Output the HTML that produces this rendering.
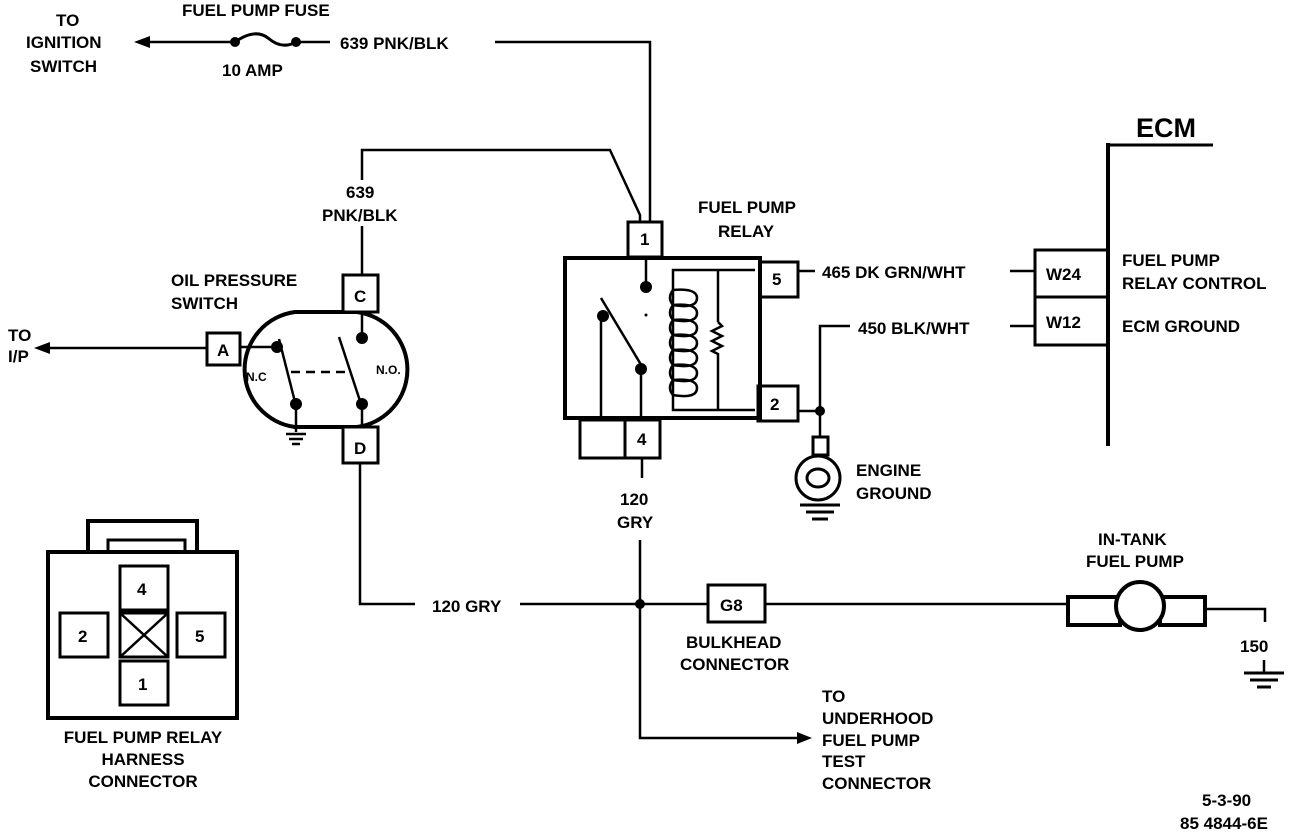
<!DOCTYPE html>
<html><head><meta charset="utf-8"><style>
html,body{margin:0;padding:0;background:#fff;}
svg{display:block;}
text{font-family:"Liberation Sans",sans-serif;font-weight:bold;font-size:17px;fill:#000;}
</style></head><body>
<svg width="1312" height="832" viewBox="0 0 1312 832" xmlns="http://www.w3.org/2000/svg">
<g stroke="#000" stroke-width="2.5" fill="none">
<line x1="140" y1="42" x2="235" y2="42"/>
<path d="M235 42 Q255 28 268 38 Q282 50 296 42" stroke-width="3"/>
<line x1="296" y1="42" x2="330" y2="42"/>
<polyline points="495,42 650,42 650,222"/>
<polyline points="362,180 362,150 610,150 640,215 640,222"/>
<line x1="362" y1="226" x2="362" y2="275"/>
<rect x="565" y="258" width="195" height="160" stroke-width="4"/>
<rect x="628" y="222" width="34" height="35" stroke-width="3"/>
<rect x="760" y="262" width="38" height="35" stroke-width="3"/>
<rect x="758" y="386" width="40" height="35" stroke-width="3"/>
<rect x="580" y="420" width="45" height="38" stroke-width="3"/>
<rect x="625" y="420" width="35" height="38" stroke-width="3"/>
<line x1="646" y1="258" x2="646" y2="287"/>
<line x1="601" y1="318" x2="601" y2="418"/>
<line x1="641" y1="365" x2="641" y2="418"/>
<line x1="601" y1="298" x2="643" y2="368"/>
<polyline points="755,270 673,270 673,410 755,410"/>
<line x1="718" y1="270" x2="718" y2="322"/>
<polyline points="718,322 722,326 712,331 722,336 712,341 722,346 712,351 718,354 718,410"/>
<path d="M673 290 q-6 8 0 15 q24 4 24 -7 q0 -10 -24 -8 M673 305 q-6 8 0 15 q24 4 24 -7 q0 -10 -24 -8 M673 320 q-6 8 0 15 q24 4 24 -7 q0 -10 -24 -8 M673 335 q-6 8 0 15 q24 4 24 -7 q0 -10 -24 -8 M673 350 q-6 8 0 15 q24 4 24 -7 q0 -10 -24 -8 M673 365 q-6 8 0 15 q24 4 24 -7 q0 -10 -24 -8 M673 380 q-6 8 0 15 q24 4 24 -7 q0 -10 -24 -8"/>
<line x1="798" y1="271" x2="815" y2="271"/>
<line x1="1010" y1="271" x2="1035" y2="271"/>
<line x1="1010" y1="326" x2="1035" y2="326"/>
<polyline points="798,411 820,411 820,326 850,326"/>
<line x1="820" y1="411" x2="820" y2="437"/>
<rect x="813" y="437" width="15" height="18" stroke-width="3"/>
<circle cx="818" cy="478" r="22" stroke-width="3"/>
<ellipse cx="818" cy="478" rx="11" ry="9" stroke-width="3"/>
<line x1="800" y1="505" x2="840" y2="505" stroke-width="3"/>
<line x1="806" y1="512" x2="834" y2="512" stroke-width="3"/>
<line x1="812" y1="519" x2="828" y2="519" stroke-width="3"/>
<rect x="1035" y="250" width="73" height="47" stroke-width="3"/>
<rect x="1035" y="297" width="73" height="48" stroke-width="3"/>
<line x1="1108" y1="143" x2="1108" y2="446" stroke-width="4"/>
<line x1="1108" y1="145" x2="1213" y2="145" stroke-width="3"/>
<path d="M295 312 H357 A58 58 0 0 1 357 427 H295 A58 58 0 0 1 295 312 Z" stroke-width="4"/>
<rect x="207" y="333" width="33" height="32" stroke-width="3" fill="#fff"/>
<rect x="343" y="275" width="35" height="37" stroke-width="3" fill="#fff"/>
<rect x="343" y="427" width="35" height="36" stroke-width="3" fill="#fff"/>
<line x1="40" y1="348" x2="207" y2="348"/>
<line x1="240" y1="347" x2="277" y2="347"/>
<line x1="279" y1="339" x2="295" y2="402"/>
<line x1="339" y1="337" x2="361" y2="404"/>
<line x1="291" y1="372" x2="350" y2="372" stroke-dasharray="9,6"/>
<line x1="362" y1="312" x2="362" y2="336"/>
<line x1="296" y1="404" x2="296" y2="432"/>
<line x1="362" y1="404" x2="362" y2="427"/>
<line x1="286" y1="434" x2="306" y2="434"/>
<line x1="289" y1="439" x2="303" y2="439"/>
<line x1="292" y1="444" x2="300" y2="444"/>
<polyline points="360,463 360,604 415,604"/>
<line x1="520" y1="604" x2="708" y2="604"/>
<rect x="708" y="585" width="57" height="37" stroke-width="3"/>
<line x1="765" y1="604" x2="1068" y2="604"/>
<rect x="1068" y="597" width="52" height="28" stroke-width="4"/>
<rect x="1160" y="597" width="45" height="28" stroke-width="4"/>
<circle cx="1140" cy="606" r="24" stroke-width="4" fill="#fff"/>
<polyline points="1205,609 1265,609 1265,622"/>
<line x1="1264" y1="660" x2="1264" y2="673"/>
<line x1="1244" y1="673" x2="1284" y2="673" stroke-width="3"/>
<line x1="1250" y1="680" x2="1278" y2="680" stroke-width="3"/>
<line x1="1257" y1="687" x2="1271" y2="687" stroke-width="3"/>
<line x1="642" y1="458" x2="642" y2="478"/>
<polyline points="640,540 640,738 805,738"/>
<rect x="48" y="552" width="189" height="166" stroke-width="4"/>
<polyline points="88,552 88,521 197,521 197,552" stroke-width="4"/>
<polyline points="108,552 108,540 185,540 185,552" stroke-width="3"/>
<rect x="120" y="566" width="48" height="44" stroke-width="3"/>
<rect x="60" y="613" width="48" height="44" stroke-width="3"/>
<rect x="120" y="613" width="48" height="44" stroke-width="3"/>
<line x1="120" y1="613" x2="168" y2="657"/><line x1="168" y1="613" x2="120" y2="657"/>
<rect x="177" y="613" width="48" height="44" stroke-width="3"/>
<rect x="120" y="661" width="48" height="44" stroke-width="3"/>
</g>
<g fill="#000">
<polygon points="134,42 150,36 150,48"/>
<polygon points="34,348 50,342 50,354"/>
<polygon points="812,738 797,732 797,744"/>
<circle cx="235" cy="42" r="5"/><circle cx="296" cy="42" r="5"/>
<circle cx="646" cy="287" r="6"/><circle cx="603" cy="316" r="6"/><circle cx="641" cy="369" r="6"/>
<circle cx="646" cy="315" r="1.5"/>
<circle cx="820" cy="411" r="5"/><circle cx="640" cy="604" r="5"/>
<circle cx="277" cy="347" r="6"/><circle cx="362" cy="338" r="6"/>
<circle cx="296" cy="404" r="6"/><circle cx="362" cy="404" r="6"/>
</g>
<text x="182" y="16">FUEL PUMP FUSE</text>
<text x="56" y="26">TO</text>
<text x="26" y="48">IGNITION</text>
<text x="30" y="72">SWITCH</text>
<text x="222" y="76">10 AMP</text>
<text x="340" y="49">639 PNK/BLK</text>
<text x="346" y="198">639</text>
<text x="322" y="221">PNK/BLK</text>
<text x="171" y="286">OIL PRESSURE</text>
<text x="171" y="309">SWITCH</text>
<text x="8" y="341">TO</text>
<text x="8" y="362">I/P</text>
<text x="217" y="356">A</text>
<text x="354" y="302">C</text>
<text x="354" y="454">D</text>
<text x="246" y="381" style="font-size:12px">N.C</text>
<text x="376" y="374" style="font-size:12px">N.O.</text>
<text x="698" y="213">FUEL PUMP</text>
<text x="718" y="237">RELAY</text>
<text x="640" y="245">1</text>
<text x="772" y="285">5</text>
<text x="770" y="410">2</text>
<text x="637" y="445">4</text>
<text x="822" y="278">465 DK GRN/WHT</text>
<text x="858" y="334">450 BLK/WHT</text>
<text x="1046" y="280">W24</text>
<text x="1046" y="328">W12</text>
<text x="1136" y="137" style="font-size:27px">ECM</text>
<text x="1122" y="266">FUEL PUMP</text>
<text x="1122" y="289">RELAY CONTROL</text>
<text x="1122" y="332">ECM GROUND</text>
<text x="856" y="476">ENGINE</text>
<text x="856" y="499">GROUND</text>
<text x="620" y="505">120</text>
<text x="617" y="528">GRY</text>
<text x="432" y="612">120 GRY</text>
<text x="720" y="611">G8</text>
<text x="686" y="648">BULKHEAD</text>
<text x="680" y="670">CONNECTOR</text>
<text x="1098" y="545">IN-TANK</text>
<text x="1086" y="567">FUEL PUMP</text>
<text x="1240" y="652">150</text>
<text x="822" y="702">TO</text>
<text x="822" y="724">UNDERHOOD</text>
<text x="822" y="746">FUEL PUMP</text>
<text x="822" y="767">TEST</text>
<text x="822" y="789">CONNECTOR</text>
<text x="137" y="595">4</text>
<text x="78" y="642">2</text>
<text x="195" y="642">5</text>
<text x="138" y="690">1</text>
<text x="143" y="743" text-anchor="middle">FUEL PUMP RELAY</text>
<text x="143" y="765" text-anchor="middle">HARNESS</text>
<text x="143" y="787" text-anchor="middle">CONNECTOR</text>
<text x="1202" y="806">5-3-90</text>
<text x="1180" y="829">85 4844-6E</text>
</svg>
</body></html>
